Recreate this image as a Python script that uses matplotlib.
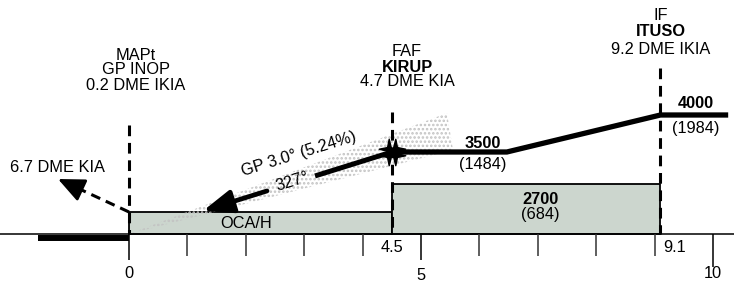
import numpy as np
import matplotlib
matplotlib.use("Agg")
import matplotlib.pyplot as plt
from matplotlib.path import Path
from matplotlib.patches import Polygon, Rectangle

plt.rcParams['font.family'] = ['Liberation Sans', 'DejaVu Sans']
plt.rcParams['hatch.linewidth'] = 1.2

# --- profile data (x: NM from MAPt, h: drawing height above ground) ---
fix_x = [0.0, 4.5, 9.1]
fix_top = [109, 122, 166]
fix_lines = [["MAPt", "GP INOP", "0.2 DME IKIA"],
             ["FAF", "KIRUP", "4.7 DME KIA"],
             ["IF", "ITUSO", "9.2 DME IKIA"]]
fix_bold = [[False, False, False], [False, True, False], [False, True, False]]
fix_label_x = [0.12, 4.76, 9.1]
fix_label_h = [[179, 164, 149], [182, 167, 152], [219, 202, 185]]

profile_x = [4.5, 6.47, 9.1, 10.26]
profile_h = [82, 82, 119, 119]
alt_labels = [("3500", "(1484)"), ("4000", "(1984)")]
alt_label_x = [6.05, 9.7]
alt_label_h = [(91, 69), (131, 106)]

oca_box = (0.0, 4.5, 22)
msa_box = (4.5, 9.1, 50)
msa_text = ("2700", "(684)")

gp_text = "GP 3.0° (5.24%)"
course_text = "327°"
gp_seg_upper = [4.5, 3.185]
gp_seg_lower = [2.363, 1.267]
wedge_x = [0.0, 5.445, 5.548]
wedge_h = [0, 121, 84]

missed_x = [0.0, -1.216]
missed_h = [22, 55]
missed_text = "6.7 DME KIA"

minor_ticks = [1, 2, 3, 4, 6, 7, 8, 9]
major_ticks = [0, 5, 10]
major_len = [26, 26, 33]
tick_labels = ["0", "5", "10"]
extra_labels = [("4.5", 4.5, 'center'), ("9.1", 9.14, 'left')]

runway_x = [-1.558, 0.0]

FS = 11.8
BOX = '#ccd6ce'

fig = plt.figure(figsize=(7.34, 2.82), dpi=100)
ax = fig.add_axes([0, 0, 1, 1])
ax.set_xlim(-129 / 58.4, 605 / 58.4)
ax.set_ylim(-48, 234)
ax.axis('off')


def gp_h(x):
    # glide path through the threshold point and the FAF
    return profile_h[0] * x / fix_x[1]


# boxes
ax.add_patch(Rectangle((oca_box[0], 0), oca_box[1] - oca_box[0], oca_box[2],
                       facecolor=BOX, edgecolor='k', lw=1.3, zorder=1))
ax.add_patch(Rectangle((msa_box[0], 0), msa_box[1] - msa_box[0], msa_box[2],
                       facecolor=BOX, edgecolor='k', lw=1.3, zorder=1))
ax.text(2.0, 11, "OCA/H", ha='center', va='center', fontsize=FS, zorder=6)
mx = (msa_box[0] + msa_box[1]) / 2 + 0.25
ax.text(mx, 35, msa_text[0], ha='center', va='center', fontsize=FS,
        fontweight='bold', zorder=6)
ax.text(mx, 19, msa_text[1], ha='center', va='center', fontsize=FS, zorder=6)

# glide path wedge (stippled)
ax.add_patch(Polygon(np.column_stack([wedge_x, wedge_h]), closed=True,
                     facecolor='none', edgecolor='#c2c2c2', lw=0,
                     hatch='....', zorder=2))

# ground line, ticks, runway bar
ax.axhline(0, color='k', lw=1.1, zorder=3)
ax.plot(runway_x, [-3.5, -3.5], color='k', lw=4.3, solid_capstyle='butt',
        zorder=3)
ax.vlines(minor_ticks, -22, 0, color='#333333', lw=1.1, zorder=3)
ax.vlines(major_ticks, [-l for l in major_len], 0, color='k', lw=1.1, zorder=3)
for t, lab, hy in zip(major_ticks, tick_labels, [-39, -41, -39]):
    ax.text(t, hy, lab, ha='center', va='center', fontsize=FS)
for lab, xx, ha in extra_labels:
    ax.text(xx, -14, lab, ha=ha, va='center', fontsize=FS)

# fix verticals and labels
for xf, top, lines, bold, lx, lh in zip(fix_x, fix_top, fix_lines, fix_bold,
                                       fix_label_x, fix_label_h):
    ax.plot([xf, xf], [top, 0], color='k', lw=2.2,
            linestyle=(0, (3.5, 2.2)), dash_capstyle='butt', zorder=4)
    for s, b, hy in zip(lines, bold, lh):
        ax.text(lx, hy, s, ha='center', va='center', fontsize=FS,
                fontweight='bold' if b else 'normal')

# profile
ax.plot(profile_x, profile_h, color='k', lw=3.8, solid_joinstyle='miter',
        solid_capstyle='butt', zorder=5)
for (a, b), lx, (h1, h2) in zip(alt_labels, alt_label_x, alt_label_h):
    ax.text(lx, h1, a, ha='center', va='center', fontsize=FS,
            fontweight='bold', zorder=6)
    ax.text(lx, h2, b, ha='center', va='center', fontsize=FS, zorder=6)

# glide path arrow with gap for course text
ax.plot(gp_seg_upper, [gp_h(x) for x in gp_seg_upper], color='k', lw=3.6,
        solid_capstyle='butt', zorder=5)
ax.annotate('', xy=(gp_seg_lower[1], gp_h(gp_seg_lower[1])),
            xytext=(gp_seg_lower[0], gp_h(gp_seg_lower[0])),
            arrowprops=dict(arrowstyle='-|>,head_length=0.9,head_width=0.35',
                            color='k', lw=3.4, shrinkA=0, shrinkB=0,
                            mutation_scale=20), zorder=5)
ang = np.degrees(np.arctan2(profile_h[0], fix_x[1] * 58.4))
ax.text(2.9, 80, gp_text, rotation=ang, ha='center', va='center',
        fontsize=FS, rotation_mode='anchor', zorder=6)
ax.text(2.8, 52, course_text, rotation=ang, ha='center', va='center',
        fontsize=FS, rotation_mode='anchor', zorder=6)

# FAF symbol: four inward-pointing arrowheads
verts, codes = [], []
for a in [45, 135, 225, 315]:
    r = np.radians(a)
    d = np.array([np.cos(r), np.sin(r)])
    p = np.array([-d[1], d[0]])
    pts = [(0, 0), d * 1.0 + p * 0.6, d * 0.6, d * 1.0 - p * 0.6, (0, 0)]
    verts += [tuple(v) for v in pts]
    codes += [Path.MOVETO, Path.LINETO, Path.LINETO, Path.LINETO,
              Path.CLOSEPOLY]
faf_marker = Path(verts, codes)
ax.plot([fix_x[1]], [profile_h[0]], marker=faf_marker, markersize=19,
        color='k', linestyle='none', zorder=7)

# missed approach
mdx = missed_x[1] - missed_x[0]
mdh = missed_h[1] - missed_h[0]
ax.plot([missed_x[0], missed_x[0] + 0.72 * mdx],
        [missed_h[0], missed_h[0] + 0.72 * mdh], color='k', lw=2.2,
        linestyle=(0, (3.2, 2.0)), dash_capstyle='butt', zorder=4)
ax.annotate('', xy=(missed_x[1], missed_h[1]),
            xytext=(missed_x[0] + 0.78 * mdx, missed_h[0] + 0.78 * mdh),
            arrowprops=dict(arrowstyle='-|>,head_length=0.9,head_width=0.4',
                            color='k', lw=2.0, shrinkA=0, shrinkB=0,
                            mutation_scale=18), zorder=5)
ax.text(-1.233, 67, missed_text, ha='center', va='center', fontsize=FS)

fig.savefig('out.png', dpi=100)
